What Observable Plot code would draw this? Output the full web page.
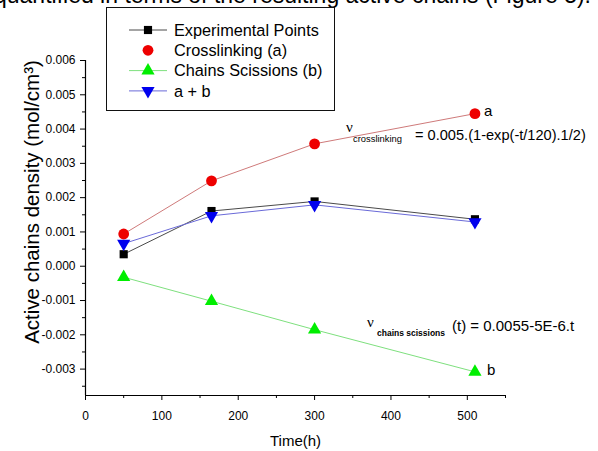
<!DOCTYPE html>
<html><head><meta charset="utf-8">
<script src="https://cdn.jsdelivr.net/npm/d3@7"></script>
<script src="https://cdn.jsdelivr.net/npm/@observablehq/plot@0.6"></script>
<style>
body{margin:0;background:#fff;font-family:"Liberation Sans",Arial,sans-serif;}
#wrap{position:relative;width:598px;height:451px;overflow:hidden;background:#fff;}
#wrap svg.plot{position:absolute;left:0;top:0;}
.abs{position:absolute;white-space:nowrap;line-height:1;color:#000;}
#doc{position:absolute;right:7px;top:-16px;font-size:23px;white-space:nowrap;line-height:1;color:#000;}
#legend{position:absolute;left:106px;top:7px;width:227px;height:102px;border:1.3px solid #111;background:#fff;}
</style></head><body><div id="wrap">
<div id="doc">quantified in terms of the resulting active chains (Figure 5).</div>
</div>
<script>
// ---- data ----
const time = [50, 165, 300, 510];
const experimental = [0.00035, 0.00161, 0.00189, 0.00137];
const crosslinking = [0.00094, 0.00249, 0.00357, 0.00445];
const scissions = [-0.00032, -0.00102, -0.00185, -0.00308];
const sumAB = [0.00066, 0.00147, 0.00179, 0.00129];
const seriesNames = ["Experimental Points", "Crosslinking (a)", "Chains Scissions (b)", "a + b"];
const endLabels = ["a", "b"];
const xTicks = [0, 100, 200, 300, 400, 500];
const xMinor = [50, 150, 250, 350, 450, 550];
const yTicks = [-0.003, -0.002, -0.001, 0, 0.001, 0.002, 0.003, 0.004, 0.005, 0.006];
const yMinor = [-0.0035, -0.0025, -0.0015, -0.0005, 0.0005, 0.0015, 0.0025, 0.0035, 0.0045, 0.0055];
const xLabel = "Time(h)";
const yLabel = "Active chains density (mol/cm³)";
const yMin = -0.00377, yMax = 0.006, xMin = 0, xMax = 550;

const rows = vals => time.map((t, i) => ({t, v: vals[i]}));
const expRows = rows(experimental), crRows = rows(crosslinking), scRows = rows(scissions), sumRows = rows(sumAB);

const font = '"Liberation Sans", Arial, sans-serif';
const styles = [
  {line: "#4a4a4a", fill: "#000", symbol: "square", r: 4.6, rotate: 0, showLine: true},
  {line: "#cf7a7a", fill: "#ee0000", symbol: "circle", r: 5.4, rotate: 0, showLine: false},
  {line: "#7ee07e", fill: "#00ee00", symbol: "triangle", r: 4.9, rotate: 0, showLine: true},
  {line: "#6a6ad8", fill: "#0000ee", symbol: "triangle", r: 4.9, rotate: 180, showLine: true}
];

const plot = Plot.plot({
  width: 598, height: 451,
  marginLeft: 85, marginRight: 93, marginTop: 60, marginBottom: 56,
  x: {domain: [xMin, xMax]},
  y: {domain: [yMin, yMax]},
  style: {fontFamily: font, fontSize: "12px", color: "#000", background: "transparent"},
  marks: [
    Plot.axisX({ticks: xTicks, tickSize: 5, tickPadding: 11, tickFormat: d => String(d), label: null, fontSize: 12}),
    Plot.axisX({ticks: xMinor, tickSize: 3, tickFormat: () => "", label: null}),
    Plot.axisY({ticks: yTicks, tickSize: 5, tickPadding: 5, tickFormat: d => d.toFixed(3), label: null, fontSize: 12}),
    Plot.axisY({ticks: yMinor, tickSize: 3, tickFormat: () => "", label: null}),
    Plot.ruleX([xMin], {stroke: "#000", strokeWidth: 1.2}),
    Plot.ruleY([yMin], {stroke: "#000", strokeWidth: 1.2}),
    Plot.line(expRows, {x: "t", y: "v", stroke: styles[0].line, strokeWidth: 1}),
    Plot.line(crRows, {x: "t", y: "v", stroke: styles[1].line, strokeWidth: 1}),
    Plot.line(scRows, {x: "t", y: "v", stroke: styles[2].line, strokeWidth: 1}),
    Plot.line(sumRows, {x: "t", y: "v", stroke: styles[3].line, strokeWidth: 1}),
    Plot.dot(expRows, {x: "t", y: "v", symbol: "square", fill: styles[0].fill, r: styles[0].r}),
    Plot.dot(crRows, {x: "t", y: "v", symbol: "circle", fill: styles[1].fill, r: styles[1].r}),
    Plot.dot(scRows, {x: "t", y: "v", symbol: "triangle", fill: styles[2].fill, r: styles[2].r}),
    Plot.dot(sumRows, {x: "t", y: "v", symbol: "triangle", rotate: 180, fill: styles[3].fill, r: styles[3].r}),
    Plot.text([crRows[crRows.length - 1]], {x: "t", y: "v", text: () => endLabels[0], dx: 9, dy: -2, textAnchor: "start", fontSize: 15, fill: "#000"}),
    Plot.text([scRows[scRows.length - 1]], {x: "t", y: "v", text: () => endLabels[1], dx: 12, dy: -2, textAnchor: "start", fontSize: 15, fill: "#000"}),
    Plot.text([xLabel], {frameAnchor: "bottom", dy: 46, textAnchor: "middle", lineAnchor: "middle", fontSize: 15, fill: "#000"}),
    Plot.text([yLabel], {frameAnchor: "left", dx: -53, dy: -26, rotate: -90, textAnchor: "middle", lineAnchor: "middle", fontSize: 20.5, fill: "#000"})
  ]
});
plot.classList.add("plot");
const wrap = document.getElementById("wrap");
wrap.insertBefore(plot, wrap.firstChild);

// ---- legend ----
const legend = document.createElement("div");
legend.id = "legend";
wrap.appendChild(legend);
const lsvg = d3.select(legend).append("svg").attr("width", 227).attr("height", 102)
  .style("position", "absolute").style("left", "0").style("top", "0");
seriesNames.forEach((name, i) => {
  const s = styles[i];
  const cy = 22 + i * 20.3;
  const g = lsvg.append("g");
  if (s.showLine) g.append("line").attr("x1", 22).attr("x2", 60).attr("y1", cy).attr("y2", cy).attr("stroke", s.line).attr("stroke-width", 1);
  const sym = {square: d3.symbolSquare, circle: d3.symbolCircle, triangle: d3.symbolTriangle}[s.symbol];
  g.append("path").attr("d", d3.symbol(sym, Math.PI * s.r * s.r)())
    .attr("transform", `translate(41,${cy}) rotate(${s.rotate})`).attr("fill", s.fill);
  g.append("text").attr("x", 67).attr("y", cy).attr("dy", "0.36em").attr("font-family", font)
    .attr("font-size", 16.3).attr("fill", "#000").text(name);
});

// ---- equations ----
function addSpan(html, left, top, css) {
  const d = document.createElement("div");
  d.className = "abs";
  d.innerHTML = html;
  d.style.left = left + "px"; d.style.top = top + "px";
  Object.assign(d.style, css);
  wrap.appendChild(d);
}
const serif = '"Liberation Serif","DejaVu Serif",serif';
addSpan("ν", 346, 120, {fontFamily: serif, fontSize: "15px"});
addSpan("crosslinking", 353, 133.5, {fontSize: "9.4px"});
addSpan("= 0.005.(1-exp(-t/120).1/2)", 415, 127.5, {fontSize: "14.6px"});
addSpan("ν", 367, 315, {fontFamily: serif, fontSize: "15px"});
addSpan("chains scissions", 377, 329, {fontSize: "8.5px", fontWeight: "bold"});
addSpan("(t) = 0.0055-5E-6.t", 452, 317.5, {fontSize: "15px"});
</script></body></html>
